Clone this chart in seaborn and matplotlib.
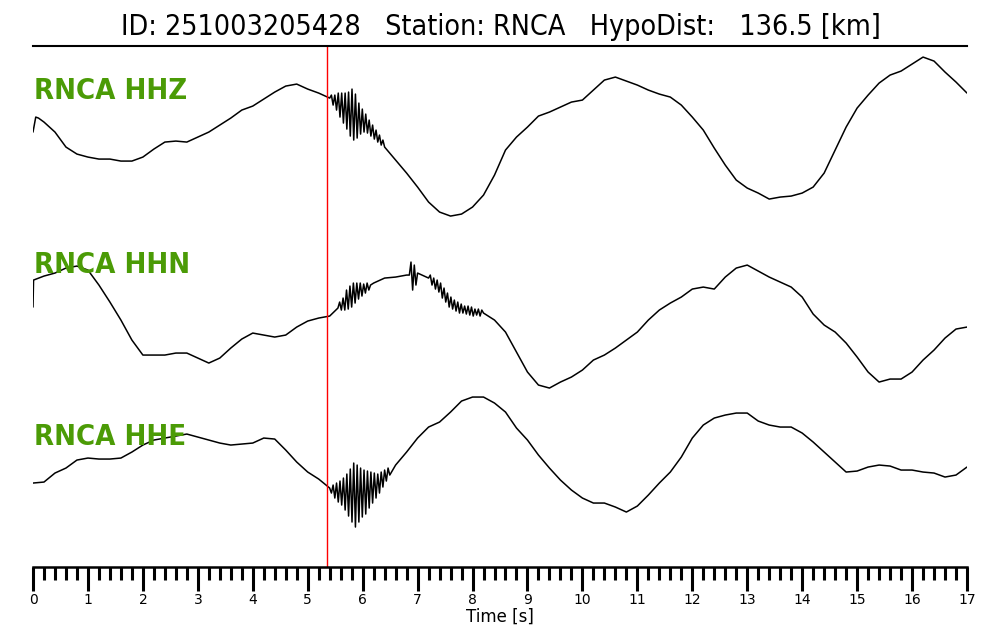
import numpy as np
import pandas as pd
import matplotlib
matplotlib.use('Agg')
import matplotlib.pyplot as plt
import seaborn as sns
from matplotlib.ticker import MultipleLocator

# event / station info
event_id = '251003205428'
station = 'RNCA'
hypo_dist = 136.5
channels = ['HHZ', 'HHN', 'HHE']
p_pick = 5.35  # red marker [s]

t_step = 0.2
hhz_base = [8, 18, 8, -7, -14, -17, -19, -19, -21, -21,
            -17, -9, -2, -1, -2, 3, 8, 15, 22, 30,
            34, 41, 48, 54, 56, 51, 47, 42, 35, 25,
            20, 7, -7, -20, -33, -47, -62, -72, -76, -74,
            -67, -55, -35, -10, 3, 13, 24, 28, 33, 38,
            40, 50, 60, 63, 59, 55, 50, 46, 43, 35,
            23, 10, -8, -25, -40, -48, -53, -59, -57, -56,
            -53, -47, -33, -10, 13, 32, 45, 57, 65, 69,
            76, 83, 79, 68, 58, 47]
hhn_base = [13, 44, 47, 52, 54, 50, 35, 18, 0, -20,
            -35, -35, -35, -33, -33, -38, -43, -38, -28, -19,
            -13, -15, -17, -15, -7, -1, 2, 4, 15, 27,
            30, 37, 42, 43, 45, 47, 42, 32, 17, 11,
            8, 7, 0, -12, -32, -52, -65, -68, -62, -57,
            -50, -40, -35, -28, -20, -12, 0, 10, 17, 23,
            31, 33, 31, 43, 52, 55, 49, 43, 38, 33,
            23, 6, -5, -12, -23, -37, -52, -62, -59, -59,
            -52, -40, -30, -18, -9, -7]
hhe_base = [-13, -12, -3, 2, 10, 12, 11, 11, 12, 18,
            25, 30, 32, 34, 36, 33, 30, 27, 25, 26,
            27, 32, 31, 20, 8, -2, -9, -18, -22, -24,
            -23, -17, -7, 5, 18, 32, 43, 48, 58, 69,
            73, 73, 67, 58, 42, 30, 15, 2, -10, -20,
            -28, -33, -33, -37, -42, -36, -25, -13, -2, 13,
            32, 45, 52, 55, 57, 57, 49, 45, 43, 43,
            37, 28, 18, 8, -2, -1, 3, 5, 4, 0,
            0, -2, -3, -7, -5, 3]

# denser readings where the trace oscillates fast: (start [s], step [s], values)
hhz_detail = [
    (0.0, 0.05, [8, 23, 22, 20]),
    (5.4, 1 / 32, [42, 45, 35, 45, 30, 47, 23, 47, 17, 47, 11, 48, 4, 51, 0, 46, 2,
                   37, 6, 31, 8, 26, 7, 20, 4, 15, 1, 10, -2, 5, -5, 0, -7]),
]
hhn_detail = [
    (0.0, 0.01, [13, 40]),
    (5.55, 1 / 32, [12, 18, 10, 22, 10, 30, 11, 34, 13, 37, 17, 37, 21, 37, 24, 36,
                    27, 37, 30, 35]),
    (6.85, 0.03, [45, 58, 30, 55, 35, 47]),
    (7.2, 1 / 32, [42, 45, 35, 42, 31, 40, 28, 37, 22, 32, 18, 27, 13, 23, 11, 20, 9,
                   18, 7, 16, 7, 14, 6, 14, 5, 13, 4, 11, 5, 11, 4, 10, 7]),
]
hhe_detail = [
    (5.4, 1 / 32, [-18, -23, -15, -28, -13, -32, -11, -35, -8, -40, -4, -46, 1, -52,
                   7, -57, 5, -52, 2, -47, 0, -44, -1, -38, -2, -33, -3, -28, -4,
                   -23, -2, -17, 0, -11, 2, -5]),
]

# vertical placement of each trace and its label (axis runs 0..521)
offsets = [427, 247, 97]
label_y = [476, 302, 130]
ylims = (0, 521)


def build_trace(base, details):
    t = np.arange(len(base)) * t_step
    v = np.asarray(base, dtype=float)
    keep = np.ones(len(t), dtype=bool)
    ts, vs = [], []
    for start, step, vals in details:
        td = start + step * np.arange(len(vals))
        keep &= ~((t >= td[0] - 1e-6) & (t <= td[-1] + 1e-6))
        ts.append(td)
        vs.append(np.asarray(vals, dtype=float))
    ts.append(t[keep])
    vs.append(v[keep])
    tt = np.concatenate(ts)
    vv = np.concatenate(vs)
    order = np.argsort(tt)
    return tt[order], vv[order]


frames = []
for ch, base, det, off in zip(channels, [hhz_base, hhn_base, hhe_base],
                              [hhz_detail, hhn_detail, hhe_detail], offsets):
    tt, vv = build_trace(base, det)
    frames.append(pd.DataFrame({'time': tt, 'y': vv + off, 'channel': ch}))
df = pd.concat(frames, ignore_index=True)

sns.set_style('white', {'axes.edgecolor': 'black', 'text.color': 'black',
                        'xtick.color': 'black', 'axes.labelcolor': 'black'})
fig = plt.figure(figsize=(10, 6.4), dpi=100)
ax = fig.add_axes([0.033, 0.114, 0.934, 0.814])

sns.lineplot(data=df, x='time', y='y', units='channel', estimator=None,
             color='black', lw=1.1, ax=ax, legend=False)
ax.axvline(p_pick, color='red', lw=1.0)

for ch, ly in zip(channels, label_y):
    ax.text(0.001, ly, f'{station} {ch}', transform=ax.get_yaxis_transform(),
            color='#4b9b06', fontsize=21, fontweight='bold', fontstretch='condensed',
            va='center', ha='left')

ax.set_xlim(0, 17)
ax.set_ylim(*ylims)
ax.set_yticks([])
ax.set_ylabel('')
ax.xaxis.set_major_locator(MultipleLocator(1))
ax.xaxis.set_minor_locator(MultipleLocator(0.2))
ax.tick_params(axis='x', which='major', direction='out', length=17, width=2.2,
               labelsize=10, pad=2, bottom=True, colors='black')
ax.tick_params(axis='x', which='minor', direction='out', length=9.5, width=2.2,
               bottom=True, colors='black')
ax.set_xlabel('Time [s]', fontsize=12, labelpad=0, color='black')

for side in ['left', 'right']:
    ax.spines[side].set_visible(False)
ax.spines['top'].set_linewidth(1.5)
ax.spines['bottom'].set_linewidth(1.8)

fig.text(0.501, 0.958, f'ID: {event_id}   Station: {station}   HypoDist:   {hypo_dist} [km]',
         ha='center', va='center', fontsize=20.5, fontstretch='condensed', color='black')

fig.savefig('out.png', dpi=100)
